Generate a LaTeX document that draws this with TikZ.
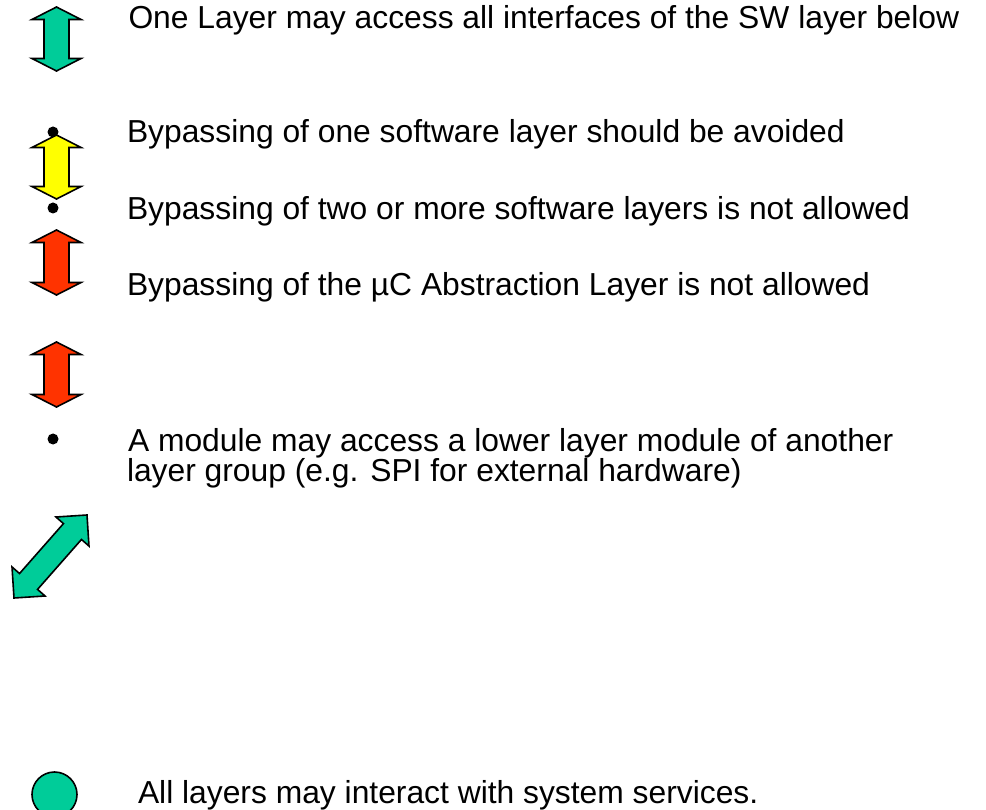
\documentclass[tikz,border=0pt]{standalone}
\usepackage{fontspec}
\setmainfont{Liberation Sans}
\definecolor{agreen}{RGB}{0,204,153}
\definecolor{ayellow}{RGB}{255,255,0}
\definecolor{ared}{RGB}{255,51,0}
\tikzset{
  arrowshape/.style={draw=black, line width=1.6pt, line join=miter},
  label/.style={anchor=base west, inner sep=0pt, outer sep=0pt,
    font=\fontsize{31.8}{30}\selectfont, align=left},
  bulletdot/.style={fill=black}
}
% vertical double arrow: centre x, top y, bottom y, colour
\newcommand\vdarrow[4]{%
  \filldraw[arrowshape, fill=#4]
    (#1,#2) -- ({#1+24.5},{#2+12.5}) -- ({#1+12.5},{#2+12.5})
    -- ({#1+12.5},{#3-12.5}) -- ({#1+24.5},{#3-12.5}) -- (#1,#3)
    -- ({#1-24.5},{#3-12.5}) -- ({#1-12.5},{#3-12.5})
    -- ({#1-12.5},{#2+12.5}) -- ({#1-24.5},{#2+12.5}) -- cycle;}
\begin{document}
\begin{tikzpicture}[x=1pt,y=-1pt]
\useasboundingbox (0,0) rectangle (986,810);

% arrows and bullets
\vdarrow{56.5}{7}{71}{agreen}
\fill[bulletdot] (53,132) circle (5.5);
\fill[bulletdot] (53,208) circle (5.5);
\vdarrow{56.5}{135}{199}{ayellow}
\vdarrow{56.5}{230}{295}{ared}
\vdarrow{56.5}{342}{407}{ared}
\fill[bulletdot] (53,439) circle (5.5);

% diagonal double arrow
\filldraw[arrowshape, fill=agreen]
  (87,515) -- (88.99,546.06) -- (81.48,539.46) -- (37.54,589.4)
  -- (45.05,596.0) -- (14,598) -- (12.01,566.94) -- (19.52,573.54)
  -- (63.46,523.6) -- (55.95,517.0) -- cycle;

% system services circle
\filldraw[arrowshape, fill=agreen] (54.5,794.5) circle (22.5);

% texts
\node[label] (t1) at (128.5,29) {One Layer may access all interfaces of the SW layer below};
\node[label] (t2) at (127,143) {Bypassing of one software layer should be avoided};
\node[label] (t3) at (127,220) {Bypassing of two or more software layers is not allowed};
\node[label] (t4) at (127,296) {Bypassing of the µC Abstraction Layer is not allowed};
\node[label] (t5) at (128,452) {A module may access a lower layer module of another};
\node[label] (t6) at (127,482) {layer group (e.g. SPI for external hardware)};
\node[label] (t7) at (138,803) {All layers may interact with system services.};
\end{tikzpicture}
\end{document}
